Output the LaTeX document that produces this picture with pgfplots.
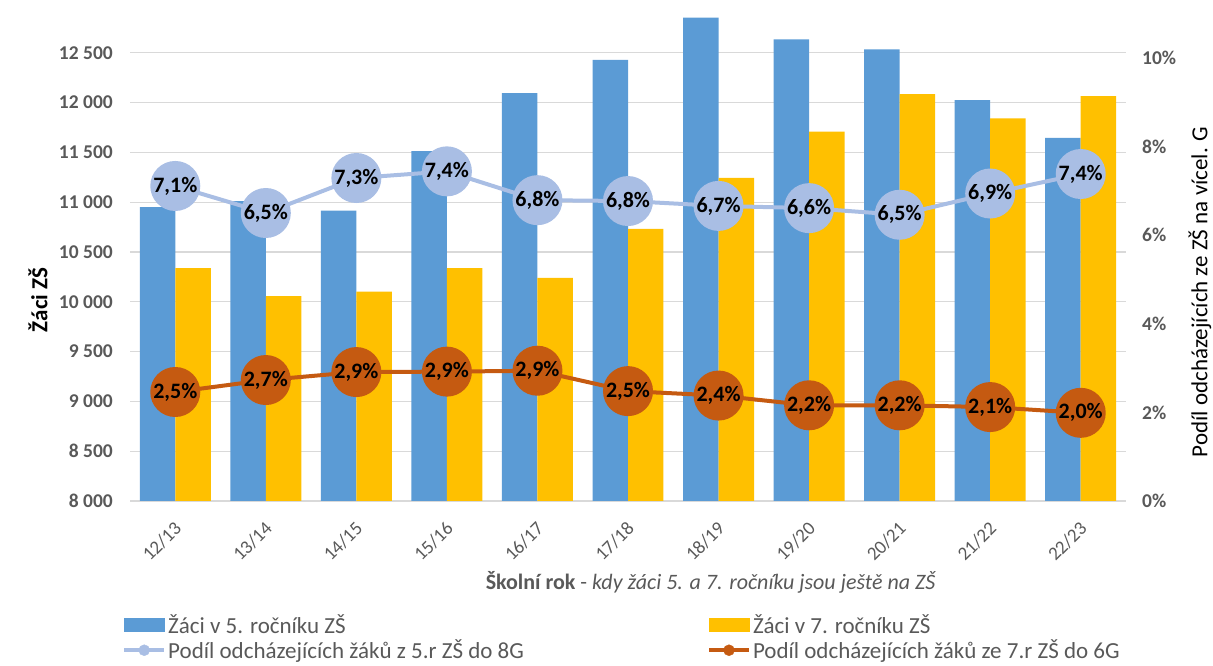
\documentclass[border=0pt]{standalone}
\usepackage{pgfplots}
\pgfplotsset{compat=1.18}
\usepackage{fontspec}
\setmainfont{Carlito}
\definecolor{cfive}{HTML}{5B9BD5}
\definecolor{cseven}{HTML}{FFC000}
\definecolor{lblue}{HTML}{A9BEE4}
\definecolor{orng}{HTML}{C55A11}
\definecolor{tgray}{HTML}{595959}
\definecolor{ggray}{HTML}{D9D9D9}
\begin{document}
\begin{tikzpicture}
\path[use as bounding box] (0,0) rectangle (1213pt,666pt);
\begin{axis}[
  at={(130pt,165pt)}, anchor=south west,
  scale only axis, width=996pt, height=498pt,
  xmin=-0.5, xmax=10.5, ymin=8000, ymax=13000,
  axis line style={draw=none}, major tick style={draw=none}, minor tick style={draw=none},
  ytick={8000,8500,...,12500},
  scaled y ticks=false,
  ymajorgrids, grid style={draw=ggray, line width=1.3pt},
  xtick={0,...,10},
  xticklabels={12/13,13/14,14/15,15/16,16/17,17/18,18/19,19/20,20/21,21/22,22/23},
  xticklabel style={xshift=3pt, yshift=-24pt, rotate=45, anchor=east, inner sep=0pt,
     font=\fontsize{19}{22}\selectfont, text=tgray},
  yticklabel style={anchor=east, inner sep=0pt, xshift=-17pt,
     font=\bfseries\fontsize{19.5}{22}\selectfont, text=tgray},
  /pgf/number format/assume math mode=true,
  /pgf/number format/1000 sep={\ },
  xlabel={\textbf{Školní rok} - \textit{kdy žáci 5. a 7. ročníku jsou ještě na ZŠ}},
  xlabel style={at={(axis description cs:0.5833,-0.1627)}, anchor=center,
     font=\fontsize{22}{26}\selectfont, text=tgray},
  ylabel={Žáci ZŠ},
  ylabel style={at={(axis description cs:-0.0924,0.404)}, anchor=center, rotate=0,
     font=\bfseries\fontsize{23}{27}\selectfont, text=black},
  clip=false,
]
\addplot[ybar, bar width=0.392, bar shift=-0.196, fill=cfive, draw=none] coordinates {
 (0,10950) (1,11012) (2,10915) (3,11514) (4,12096) (5,12428) (6,12853) (7,12635) (8,12535) (9,12026) (10,11645)};
\addplot[ybar, bar width=0.392, bar shift=0.196, fill=cseven, draw=none] coordinates {
 (0,10339) (1,10058) (2,10103) (3,10339) (4,10239) (5,10731) (6,11243) (7,11708) (8,12086) (9,11842) (10,12066)};
\end{axis}
\begin{axis}[
  at={(130pt,165pt)}, anchor=south west,
  scale only axis, width=996pt, height=498pt,
  xmin=-0.5, xmax=10.5, ymin=0, ymax=11.24,
  axis y line*=right, axis x line=none,
  axis line style={draw=none}, major tick style={draw=none}, minor tick style={draw=none},
  ytick={0,2,...,10},
  yticklabel={\pgfmathprintnumber{\tick}\%},
  yticklabel style={anchor=west, inner sep=0pt, xshift=16pt,
     font=\bfseries\fontsize{19.5}{22}\selectfont, text=tgray},
  /pgf/number format/assume math mode=true,
  ylabel={Podíl odcházejících ze ZŠ na vícel. G},
  ylabel style={at={(axis description cs:1.0743,0.42)}, anchor=center, rotate=0,
     font=\fontsize{23}{27}\selectfont, text=black},
  clip=false,
  legend columns=2,
  legend style={at={(axis description cs:-0.008,-0.224)}, anchor=north west,
     draw=none, fill=none, inner sep=0pt, row sep=1pt,
     font=\fontsize{23}{28}\selectfont, text=tgray,
     nodes={inner sep=2pt},
     /tikz/every even column/.append style={column sep=181pt}},
  legend cell align=left,
]
\addlegendimage{legend image code/.code={\fill[cfive] (0pt,-6.5pt) rectangle (40pt,6.5pt);}}
\addlegendimage{legend image code/.code={\fill[cseven] (0pt,-6.5pt) rectangle (40pt,6.5pt);}}
\addlegendimage{legend image code/.code={\draw[lblue,line width=4pt] (0pt,0pt)--(40pt,0pt); \fill[lblue] (20pt,0pt) circle (5.5pt);}}
\addlegendimage{legend image code/.code={\draw[orng,line width=4pt] (0pt,0pt)--(40pt,0pt); \fill[orng] (20pt,0pt) circle (5.5pt);}}
\addplot[forget plot, color=lblue, line width=4pt, mark=*, mark size=23pt,
   mark options={fill=lblue, draw=none},
   nodes near coords={\pgfmathprintnumber[fixed,fixed zerofill,precision=1,use comma]{\pgfplotspointmeta}\%},
   nodes near coords style={anchor=center, inner sep=0pt, text=black, font=\bfseries\fontsize{22}{24}\selectfont}]
 coordinates {(0,7.11) (1,6.50) (2,7.29) (3,7.44) (4,6.79) (5,6.77) (6,6.66) (7,6.61) (8,6.46) (9,6.94) (10,7.38)};
\addplot[forget plot, color=orng, line width=4pt, mark=*, mark size=23pt,
   mark options={fill=orng, draw=none},
   nodes near coords={\pgfmathprintnumber[fixed,fixed zerofill,precision=1,use comma]{\pgfplotspointmeta}\%},
   nodes near coords style={anchor=center, inner sep=0pt, text=black, font=\bfseries\fontsize{22}{24}\selectfont}]
 coordinates {(0,2.46) (1,2.73) (2,2.91) (3,2.92) (4,2.94) (5,2.48) (6,2.38) (7,2.16) (8,2.16) (9,2.12) (10,1.99)};
\legend{Žáci v 5. ročníku ZŠ, Žáci v 7. ročníku ZŠ, Podíl odcházejících žáků z 5.r ZŠ do 8G, Podíl odcházejících žáků ze 7.r ZŠ do 6G}
\end{axis}
\end{tikzpicture}
\end{document}
